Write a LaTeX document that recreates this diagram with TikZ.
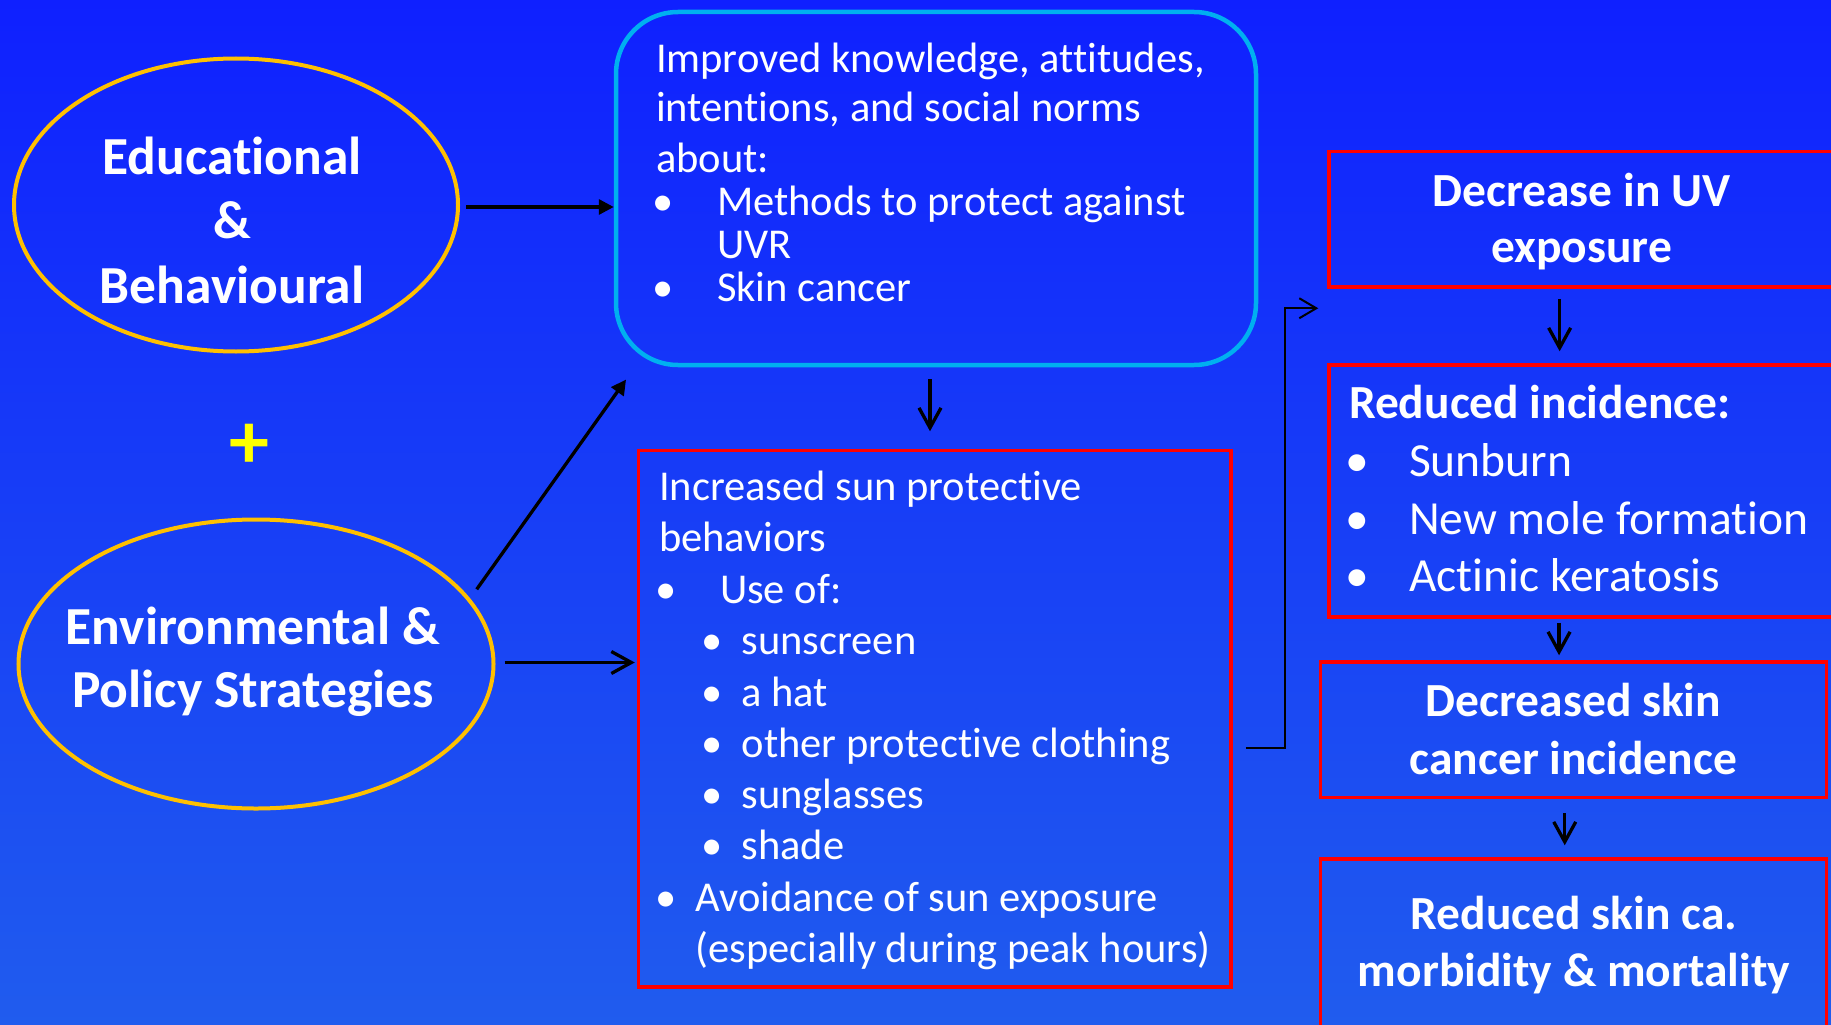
\documentclass[tikz,border=0pt]{standalone}
\usepackage{fontspec}
\setmainfont{Carlito}[Ligatures={NoCommon}]
\usetikzlibrary{arrows.meta,shapes.geometric,calc}
\definecolor{bgtop}{RGB}{15,32,255}
\definecolor{bgbot}{RGB}{32,92,238}
\definecolor{ellcol}{RGB}{255,192,0}
\definecolor{boxblue}{RGB}{0,176,240}
\definecolor{boxred}{RGB}{255,0,0}
\definecolor{plusyel}{RGB}{255,255,0}
\tikzset{
  txt/.style={text=white, inner sep=0pt, outer sep=0pt},
  regtxt/.style={txt, font=\fontsize{42.5}{51}\selectfont},
  ebold/.style={txt, font=\bfseries\fontsize{53.5}{62}\selectfont},
  rbold/.style={txt, font=\bfseries\fontsize{47.5}{57}\selectfont},
  rreg/.style={txt, font=\fontsize{47.5}{57}\selectfont},
  ellbox/.style={ellipse, draw=ellcol, line width=4pt, inner sep=0pt},
  redbox/.style={rectangle, draw=boxred, line width=3.5pt, inner sep=0pt},
  bluebox/.style={rectangle, draw=boxblue, line width=4.5pt, rounded corners=62pt, inner sep=0pt},
  fatarrow/.style={draw=black, line width=3.3pt, -{Triangle[length=15pt,width=15pt]}},
  veearrow/.style={draw=black, line width=3.3pt, -{Straight Barb[length=20pt,width=22pt]}},
  thinarrow/.style={draw=black, line width=2pt, -{Straight Barb[length=17pt,width=20pt]}},
}
\begin{document}
\begin{tikzpicture}[x=1pt,y=-1pt]
\useasboundingbox (0,0) rectangle (1831,1025);
\clip (0,0) rectangle (1831,1025);
\shade[top color=bgtop, bottom color=bgbot] (0,0) rectangle (1831,1025);

% ellipses
\node[ellbox, minimum width=444pt, minimum height=293pt] (edu) at (236,205) {};
\node[ellbox, minimum width=475pt, minimum height=289pt] (env) at (256,664) {};
\node[ebold, anchor=base] (edu1) at (232,174) {Educational};
\node[ebold, anchor=base] (edu2) at (232,238) {\&};
\node[ebold, anchor=base] (edu3) at (232,303) {Behavioural};
\node[ebold, anchor=base] (env1) at (253,644) {Environmental \&};
\node[ebold, anchor=base] (env2) at (253,707) {Policy Strategies};
\node[txt, text=plusyel, font=\bfseries\fontsize{80}{80}\selectfont] (plus) at (249.3,446) {+};

% top rounded box
\node[bluebox, minimum width=640pt, minimum height=353pt] (top) at (936,188.5) {};
\node[regtxt, anchor=base west] (t1) at (656,72.5) {Improved knowledge, attitudes,};
\node[regtxt, anchor=base west] (t2) at (656,121.5) {intentions, and social norms};
\node[regtxt, anchor=base west] (t3) at (656,172.5) {about:};
\node[regtxt, anchor=base] (tb1) at (663,215.5) {•};
\node[regtxt, anchor=base west] (t4) at (717,215.5) {Methods to protect against};
\node[regtxt, anchor=base west] (t5) at (717,258.5) {UVR};
\node[regtxt, anchor=base] (tb2) at (663,301.5) {•};
\node[regtxt, anchor=base west] (t6) at (717,301.5) {Skin cancer};

% middle red box
\node[redbox, minimum width=592.5pt, minimum height=536.5pt] (mid) at (934.75,718.75) {};
\node[regtxt, anchor=base west] (m1) at (659,500) {Increased sun protective};
\node[regtxt, anchor=base west] (m2) at (659,551.5) {behaviors};
\node[regtxt, anchor=base] (mb1) at (666,603.5) {•};
\node[regtxt, anchor=base west] (m3) at (720,603.5) {Use of:};
\node[regtxt, anchor=base] (ms1) at (712.5,654.8) {•};
\node[regtxt, anchor=base west] (m4) at (741.7,654.8) {sunscreen};
\node[regtxt, anchor=base] (ms2) at (712.5,706) {•};
\node[regtxt, anchor=base west] (m5) at (741.7,706) {a hat};
\node[regtxt, anchor=base] (ms3) at (712.5,757.3) {•};
\node[regtxt, anchor=base west] (m6) at (741.7,757.3) {other protective clothing};
\node[regtxt, anchor=base] (ms4) at (712.5,808.5) {•};
\node[regtxt, anchor=base west] (m7) at (741.7,808.5) {sunglasses};
\node[regtxt, anchor=base] (ms5) at (712.5,859.7) {•};
\node[regtxt, anchor=base west] (m8) at (741.7,859.7) {shade};
\node[regtxt, anchor=base] (mb2) at (666,911) {•};
\node[regtxt, anchor=base west] (m9) at (695.4,911) {Avoidance of sun exposure};
\node[regtxt, anchor=base west] (m10) at (695.4,962) {(especially during peak hours)};

% right column
\node[redbox, minimum width=521pt, minimum height=135.5pt] (uvb) at (1589.5,219.25) {};
\node[rbold, anchor=base] (u1) at (1581.5,206) {Decrease in UV};
\node[rbold, anchor=base] (u2) at (1581.5,262.7) {exposure};

\node[redbox, minimum width=521pt, minimum height=252pt] (inc) at (1589.5,491) {};
\node[rbold, anchor=base west] (i1) at (1349,418.3) {Reduced incidence:};
\node[rreg, anchor=base] (ib1) at (1357.6,476.7) {•};
\node[rreg, anchor=base west] (i2) at (1409,476.7) {Sunburn};
\node[rreg, anchor=base] (ib2) at (1357.6,534) {•};
\node[rreg, anchor=base west] (i3) at (1409,534) {New mole formation};
\node[rreg, anchor=base] (ib3) at (1357.6,591) {•};
\node[rreg, anchor=base west] (i4) at (1409,591) {Actinic keratosis};

\node[redbox, minimum width=506pt, minimum height=135.5pt] (skc) at (1573.5,729.75) {};
\node[rbold, anchor=base] (s1) at (1573.5,716.7) {Decreased skin};
\node[rbold, anchor=base] (s2) at (1573.5,774) {cancer incidence};

\node[redbox, minimum width=506pt, minimum height=201pt] (mor) at (1573.5,959.5) {};
\node[rbold, anchor=base] (r1) at (1574,929.3) {Reduced skin ca.};
\node[rbold, anchor=base] (r2) at (1574,986.7) {morbidity \& mortality};

% connectors
\draw[fatarrow] ($(edu.east)+(6,2)$) -- ($(edu.east -| top.west)+(0,2)$);
\draw[fatarrow] ($(env.center)+(220.7,-74.7)$) -- ($(top.south west)+(12.3,12.3)$);
\draw[veearrow] ($(env.east)+(9,-1.5)$) -- ($(env.east -| mid.west)+(-2,-1.5)$);
\draw[veearrow] ($(top.south)+(-6,12)$) -- ($(mid.north)+(-4.75,-17.5)$);
\draw[thinarrow] ($(mid.east)+(13,29)$) -- ++(39.7,0) |- ($(uvb.south west)+(-9,19.5)$);
\draw[veearrow] ($(uvb.south west)+(232.4,10)$) -- ($(inc.north west)+(232.4,-12)$);
\draw[veearrow] ($(inc.south west)+(231.8,4)$) -- ($(skc.north west)+(240.3,-5)$);
\draw[veearrow] ($(skc.south west)+(246,14)$) -- ($(mor.north west)+(246,-12)$);
\end{tikzpicture}
\end{document}
